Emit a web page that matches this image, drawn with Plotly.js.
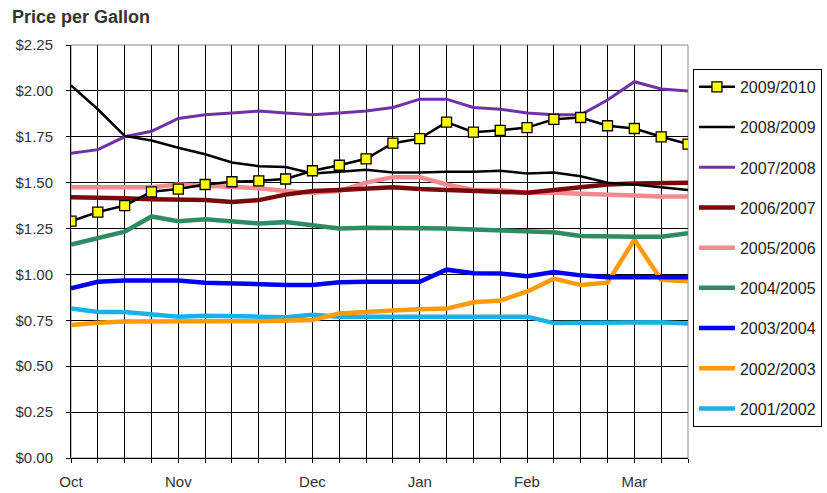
<!DOCTYPE html>
<html>
<head>
<meta charset="utf-8">
<script src="https://cdn.plot.ly/plotly-3.0.1.min.js"></script>
<style>html,body{margin:0;padding:0;background:#fff;}#chart{width:827px;height:493px;}</style>
</head>
<body>
<div id="chart"></div>
<script>
// Weekly categories (Oct .. late Mar); only month starts are labelled
const weekLabels = ['Oct','','','','Nov','','','','','Dec','','','','Jan','','','','Feb','','','','Mar','',''];

const seasons = ['2001/2002','2002/2003','2003/2004','2004/2005','2005/2006','2006/2007','2007/2008','2008/2009','2009/2010'];

const s2001 = [0.815,0.795,0.795,0.785,0.77,0.775,0.775,0.77,0.767,0.78,0.77,0.77,0.77,0.77,0.77,0.77,0.77,0.77,0.735,0.735,0.735,0.74,0.74,0.733];
const s2002 = [0.724,0.737,0.743,0.745,0.745,0.745,0.745,0.745,0.747,0.752,0.787,0.797,0.803,0.81,0.814,0.848,0.858,0.906,0.977,0.942,0.955,1.19,0.971,0.963];
const s2003 = [0.925,0.96,0.967,0.967,0.967,0.955,0.95,0.947,0.943,0.943,0.957,0.96,0.96,0.96,1.026,1.007,1.005,0.99,1.013,0.995,0.985,0.985,0.985,0.985];
const s2004 = [1.163,1.197,1.233,1.316,1.29,1.30,1.29,1.278,1.285,1.27,1.25,1.255,1.255,1.25,1.25,1.245,1.24,1.235,1.23,1.21,1.205,1.205,1.205,1.225];
const s2005 = [1.475,1.475,1.475,1.475,1.49,1.485,1.475,1.47,1.455,1.445,1.455,1.50,1.53,1.53,1.49,1.46,1.46,1.445,1.445,1.44,1.43,1.43,1.425,1.425];
const s2006 = [1.42,1.42,1.415,1.41,1.41,1.405,1.395,1.405,1.435,1.455,1.46,1.47,1.475,1.465,1.46,1.455,1.45,1.445,1.46,1.475,1.49,1.495,1.50,1.50];
const s2007 = [1.66,1.68,1.75,1.78,1.85,1.87,1.88,1.89,1.88,1.87,1.88,1.89,1.91,1.955,1.955,1.91,1.90,1.88,1.87,1.87,1.95,2.05,2.01,2.00];
const s2008 = [2.03,1.90,1.755,1.73,1.69,1.655,1.61,1.59,1.585,1.55,1.56,1.57,1.555,1.555,1.56,1.56,1.565,1.55,1.555,1.535,1.50,1.49,1.475,1.46];
const s2009 = [1.29,1.34,1.375,1.45,1.465,1.49,1.505,1.51,1.52,1.565,1.595,1.63,1.715,1.74,1.83,1.775,1.785,1.80,1.845,1.855,1.81,1.795,1.75,1.71];

const yTickVals = [0,0.25,0.5,0.75,1.0,1.25,1.5,1.75,2.0,2.25];
const yTickText = ['$0.00','$0.25','$0.50','$0.75','$1.00','$1.25','$1.50','$1.75','$2.00','$2.25'];

const xIdx = weekLabels.map((_, i) => i);

const seriesValues = [s2001, s2002, s2003, s2004, s2005, s2006, s2007, s2008, s2009];
const styles = [
  {color:'#1AB0E8', width:4.5},
  {color:'#FF9A0A', width:4.5},
  {color:'#0000F0', width:4.5},
  {color:'#2E8B62', width:4.5},
  {color:'#F58A8E', width:4.5},
  {color:'#7A0A0A', width:4.5},
  {color:'#7030A8', width:3},
  {color:'#000000', width:2.5},
  {color:'#000000', width:2.5}
];

const traces = seriesValues.map((vals, k) => {
  const t = {
    x: xIdx, y: vals, name: seasons[k], type: 'scatter',
    mode: 'lines', legendgroup: 'g' + k, legendrank: 100 - k,
    line: {color: styles[k].color, width: styles[k].width}
  };
  if (k === 8) {
    t.mode = 'lines+markers';
    t.marker = {symbol: 'square', size: 10, color: '#FFFF00', line: {color: '#000000', width: 1.3}};
  }
  return t;
});

const layout = {
  width: 827, height: 493,
  margin: {l: 71, r: 139, t: 45, b: 35, autoexpand: false},
  paper_bgcolor: '#ffffff', plot_bgcolor: '#ffffff',
  font: {family: 'Liberation Sans, Arial, sans-serif', size: 15, color: '#333333'},
  showlegend: true,
  title: {text: '<b>Price per Gallon</b>', x: 12 / 827, xanchor: 'left', xref: 'container',
          y: 1 - 17 / 493, yanchor: 'middle', yref: 'container',
          font: {family: 'Liberation Sans, Arial, sans-serif', size: 18, color: '#333333'}},
  xaxis: {
    range: [0, 23], tickmode: 'array', tickvals: xIdx, ticktext: weekLabels,
    showgrid: true, gridcolor: '#000000', gridwidth: 1,
    showline: true, linecolor: '#000000', linewidth: 1, mirror: false,
    ticks: 'outside', ticklen: 4, tickcolor: '#000000', tickwidth: 1,
    ticklabelstandoff: 6,
    zeroline: false, fixedrange: true,
    tickfont: {size: 15, color: '#333333'}
  },
  yaxis: {
    range: [0, 2.25], tickmode: 'array', tickvals: yTickVals, ticktext: yTickText,
    showgrid: true, gridcolor: '#000000', gridwidth: 1,
    showline: true, linecolor: '#000000', linewidth: 1,
    ticks: 'outside', ticklen: 4, tickcolor: '#000000',
    ticklabelstandoff: 10,
    zeroline: false, fixedrange: true,
    tickfont: {size: 15, color: '#333333'}
  },
  shapes: [
    {type: 'rect', xref: 'paper', yref: 'paper', x0: 0, x1: 1, y0: 0, y1: 1,
     line: {color: '#888888', width: 1}, fillcolor: 'rgba(0,0,0,0)', layer: 'below'}
  ],
  legend: {
    x: 1.008, xanchor: 'left', y: 0.942, yanchor: 'top',
    traceorder: 'grouped', tracegroupgap: 16.4,
    bordercolor: '#000000', borderwidth: 1, bgcolor: '#ffffff',
    font: {size: 16, color: '#222222'}, itemwidth: 36
  }
};

Plotly.newPlot('chart', traces, layout, {staticPlot: true, displayModeBar: false});
</script>
</body>
</html>
